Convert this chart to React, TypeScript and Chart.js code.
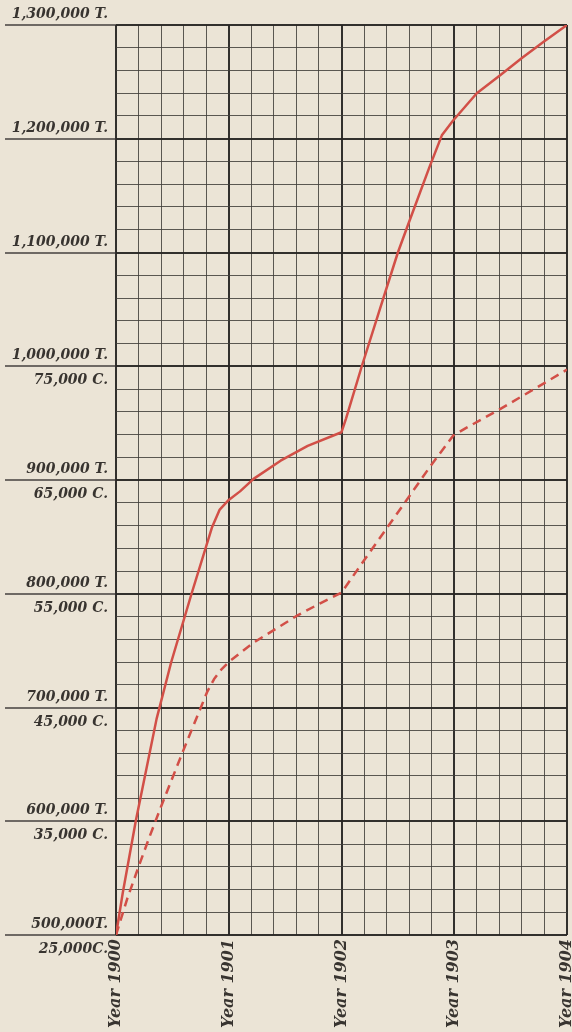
import React, { useEffect, useRef } from 'react';
import { Chart, registerables } from 'chart.js';

Chart.register(...registerables);

// Tonnage series (solid), x = year, y = tons
const tonYears = [1900.0, 1900.06, 1900.175, 1900.36, 1900.49, 1900.67, 1900.85, 1900.92, 1901.0, 1901.1, 1901.22, 1901.46, 1901.7, 1902.0, 1902.04, 1902.18, 1902.365, 1902.5, 1902.6, 1902.78, 1902.89, 1902.99, 1903.2, 1903.41, 1903.6, 1903.79, 1904.0];
const tonValues = [500000, 537000, 600000, 690000, 740000, 800000, 858000, 874000, 882500, 890000, 901000, 917000, 930000, 942000, 954000, 1000000, 1058000, 1100000, 1127000, 1175000, 1203000, 1216000, 1240000, 1256000, 1271000, 1285000, 1300000];

// C series (dashed), x = year, y = C units
const cYears = [1900.0, 1900.1, 1900.2, 1900.3, 1900.4, 1900.6, 1900.81, 1900.87, 1900.94, 1901.0, 1901.22, 1901.61, 1901.82, 1902.0, 1902.18, 1902.39, 1902.6, 1902.78, 1902.99, 1903.11, 1903.41, 1903.71, 1904.0];
const cValues = [25000, 28200, 31000, 33700, 36300, 41300, 46400, 47500, 48400, 49000, 50700, 53100, 54200, 55100, 57650, 60600, 63550, 66100, 68900, 69600, 71250, 73000, 74700];

const yearLabels = ['Year 1900', 'Year 1901', 'Year 1902', 'Year 1903', 'Year 1904'];
const tonTickLabels = ['500,000T.', '600,000 T.', '700,000 T.', '800,000 T.', '900,000 T.', '1,000,000 T.', '1,100,000 T.', '1,200,000 T.', '1,300,000 T.'];
const cTickLabels = ['25,000C.', '35,000 C.', '45,000 C.', '55,000 C.', '65,000 C.', '75,000 C.', '', '', ''];

const PAPER = '#ebe4d6';
const RED = '#d24f47';
const MAJOR = 'rgba(40,38,36,0.95)';
const MINOR = 'rgba(65,62,58,0.85)';
const TEXT = '#383430';

export default function App() {
  const ref = useRef<HTMLCanvasElement | null>(null);

  useEffect(() => {
    if (!ref.current) return;
    const isMajorX = (v: number) => Math.abs(v - Math.round(v)) < 1e-6;
    const isMajorY = (v: number) => Math.abs((v - 500000) / 100000 - Math.round((v - 500000) / 100000)) < 1e-6;

    const chart = new Chart(ref.current, {
      type: 'line',
      data: {
        datasets: [
          {
            label: 'T',
            data: tonYears.map((x, i) => ({ x, y: tonValues[i] })),
            borderColor: RED,
            borderWidth: 2.5,
            borderJoinStyle: 'round',
            pointRadius: 0,
            tension: 0,
            yAxisID: 'y',
          },
          {
            label: 'C',
            data: cYears.map((x, i) => ({ x, y: cValues[i] })),
            borderColor: RED,
            borderWidth: 2.5,
            borderJoinStyle: 'round',
            borderDash: [9, 6],
            pointRadius: 0,
            tension: 0,
            yAxisID: 'yC',
          },
        ],
      },
      options: {
        animation: false,
        responsive: true,
        maintainAspectRatio: false,
        layout: { padding: { top: 25, right: 5, left: 0, bottom: 0 } },
        plugins: { legend: { display: false }, tooltip: { enabled: false } },
        scales: {
          x: {
            type: 'linear',
            min: 1900,
            max: 1904,
            border: { display: false },
            grid: {
              drawTicks: false,
              color: (ctx: any) => (isMajorX(ctx.tick?.value ?? 0) ? MAJOR : MINOR),
              lineWidth: (ctx: any) => (isMajorX(ctx.tick?.value ?? 0) ? 2 : 1),
            },
            ticks: {
              stepSize: 0.2,
              autoSkip: false,
              maxRotation: 90,
              minRotation: 90,
              padding: 4,
              color: TEXT,
              font: { family: '"DejaVu Serif"', style: 'italic', weight: 'bold', size: 16, lineHeight: 0.45 },
              callback: (value: any) => {
                const v = Number(value);
                if (!isMajorX(v)) return '';
                return yearLabels[Math.round(v) - 1900] ?? '';
              },
            },
            afterFit: (scale: any) => {
              scale.height = 97;
              scale.paddingLeft = 0;
              scale.paddingRight = 0;
            },
          },
          y: {
            type: 'linear',
            position: 'left',
            min: 500000,
            max: 1300000,
            border: { display: false },
            grid: {
              drawTicks: true,
              tickLength: 111,
              color: (ctx: any) => (isMajorY(ctx.tick?.value ?? 0) ? MAJOR : MINOR),
              lineWidth: (ctx: any) => (isMajorY(ctx.tick?.value ?? 0) ? 2 : 1),
              tickColor: (ctx: any) => (isMajorY(ctx.tick?.value ?? 0) ? 'rgba(50,47,44,0.9)' : 'rgba(0,0,0,0)'),
              tickWidth: (ctx: any) => (isMajorY(ctx.tick?.value ?? 0) ? 1.5 : 0),
            },
            ticks: {
              stepSize: 20000,
              autoSkip: false,
              padding: -103,
              labelOffset: 2,
              color: TEXT,
              font: { family: '"DejaVu Serif"', style: 'italic', weight: 'bold', size: 14, lineHeight: 1.8 },
              callback: (value: any) => {
                const v = Number(value);
                if (!isMajorY(v)) return '';
                const k = Math.round((v - 500000) / 100000);
                return [tonTickLabels[k], cTickLabels[k]];
              },
            },
            afterFit: (scale: any) => {
              scale.width = 116;
              scale.paddingTop = 0;
              scale.paddingBottom = 0;
            },
          },
          yC: {
            type: 'linear',
            display: false,
            min: 25000,
            max: 105000,
          },
        },
      },
    });
    return () => chart.destroy();
  }, []);

  return (
    <div style={{ position: 'fixed', left: 0, top: 0, width: 572, height: 1032, background: PAPER }}>
      <canvas ref={ref} />
    </div>
  );
}
